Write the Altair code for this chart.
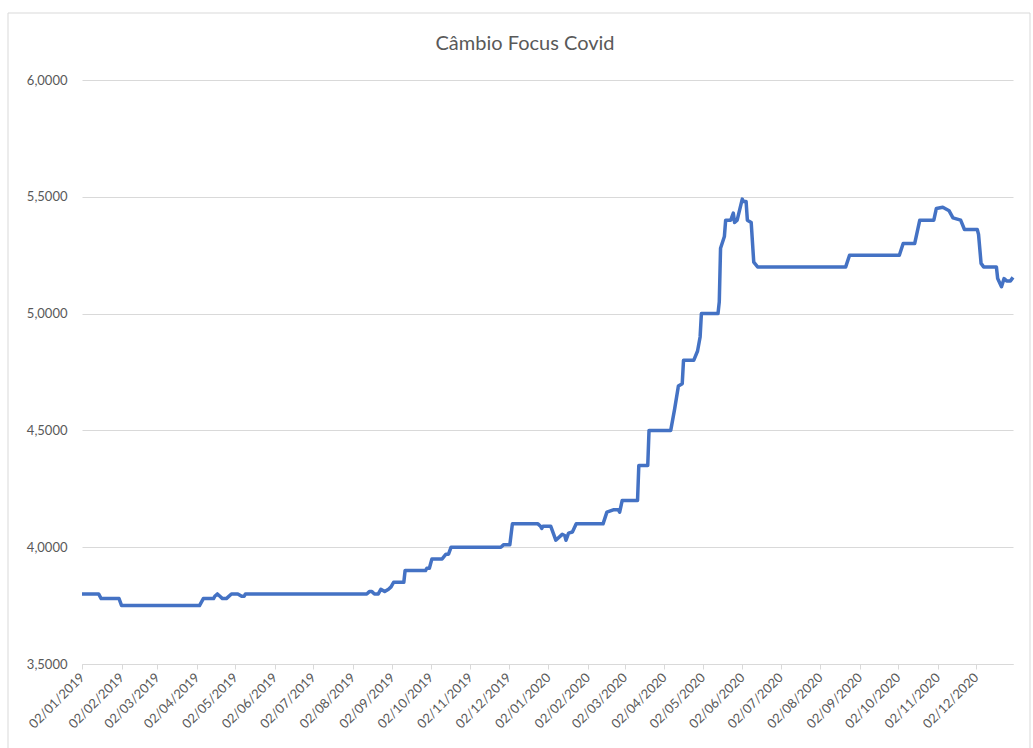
import altair as alt
import pandas as pd

TITLE = "Câmbio Focus Covid"

# Vertices of the exchange-rate expectation series
dates = [
    "2019-01-02", "2019-01-15", "2019-01-17", "2019-01-31", "2019-02-02",
    "2019-04-04", "2019-04-07", "2019-04-15", "2019-04-16", "2019-04-18",
    "2019-04-20", "2019-04-22", "2019-04-25", "2019-04-29", "2019-05-04",
    "2019-05-07", "2019-05-09", "2019-05-10", "2019-08-13", "2019-08-15",
    "2019-08-17", "2019-08-19", "2019-08-22", "2019-08-24", "2019-08-27",
    "2019-08-30", "2019-09-01", "2019-09-03", "2019-09-11", "2019-09-12",
    "2019-09-28", "2019-09-29", "2019-10-01", "2019-10-03", "2019-10-11",
    "2019-10-14", "2019-10-16", "2019-10-18", "2019-11-26", "2019-11-28",
    "2019-12-03", "2019-12-05", "2019-12-25", "2019-12-27", "2019-12-28",
    "2019-12-29", "2020-01-04", "2020-01-08", "2020-01-13", "2020-01-15",
    "2020-01-16", "2020-01-18", "2020-01-21", "2020-01-24", "2020-02-14",
    "2020-02-17", "2020-02-22", "2020-02-26", "2020-02-27", "2020-02-29",
    "2020-03-12", "2020-03-13", "2020-03-20", "2020-03-21", "2020-04-07",
    "2020-04-10", "2020-04-13", "2020-04-16", "2020-04-17", "2020-04-25",
    "2020-04-28", "2020-04-30", "2020-05-01", "2020-05-14", "2020-05-15",
    "2020-05-16", "2020-05-19", "2020-05-20", "2020-05-24", "2020-05-26",
    "2020-05-27", "2020-05-29", "2020-06-02", "2020-06-03", "2020-06-05",
    "2020-06-06", "2020-06-09", "2020-06-11", "2020-06-14", "2020-08-22",
    "2020-08-25", "2020-10-03", "2020-10-06", "2020-10-15", "2020-10-19",
    "2020-10-30", "2020-11-01", "2020-11-06", "2020-11-11", "2020-11-14",
    "2020-11-20", "2020-11-23", "2020-12-03", "2020-12-04", "2020-12-06",
    "2020-12-08", "2020-12-18", "2020-12-19", "2020-12-22", "2020-12-24",
    "2020-12-26", "2020-12-29", "2020-12-31",
]
values = [
    3.80, 3.80, 3.78, 3.78, 3.75,
    3.75, 3.78, 3.78, 3.79, 3.80,
    3.79, 3.78, 3.78, 3.80, 3.80,
    3.79, 3.79, 3.80, 3.80, 3.81,
    3.81, 3.80, 3.80, 3.82, 3.81,
    3.82, 3.83, 3.85, 3.85, 3.90,
    3.90, 3.91, 3.91, 3.95, 3.95,
    3.97, 3.97, 4.00, 4.00, 4.01,
    4.01, 4.10, 4.10, 4.09, 4.08,
    4.09, 4.09, 4.03, 4.055, 4.05,
    4.03, 4.06, 4.065, 4.10, 4.10,
    4.15, 4.16, 4.16, 4.15, 4.20,
    4.20, 4.35, 4.35, 4.50, 4.50,
    4.59, 4.69, 4.70, 4.80, 4.80,
    4.84, 4.90, 5.00, 5.00, 5.05,
    5.28, 5.33, 5.40, 5.40, 5.43,
    5.39, 5.40, 5.49, 5.48, 5.48,
    5.40, 5.39, 5.22, 5.20, 5.20,
    5.25, 5.25, 5.30, 5.30, 5.40,
    5.40, 5.45, 5.455, 5.44, 5.41,
    5.40, 5.36, 5.36, 5.34, 5.215,
    5.20, 5.20, 5.15, 5.115, 5.15,
    5.14, 5.14, 5.155,
]

# Axis tick months (day 2 of each month)
tick_years = [2019] * 12 + [2020] * 12
tick_months = list(range(1, 13)) * 2
y_ticks = [3.5, 4.0, 4.5, 5.0, 5.5, 6.0]

df = pd.DataFrame({"data": [d + "T00:00:00" for d in dates], "valor": values})

FONT = "Lato"
GREY = "#595959"
LINE = "#d9d9d9"

tick_values = [alt.DateTime(year=y, month=m, date=2) for y, m in zip(tick_years, tick_months)]

x_enc = alt.X(
    "data:T",
    scale=alt.Scale(
        domain=[alt.DateTime(year=2019, month=1, date=2), alt.DateTime(year=2020, month=12, date=31)],
        nice=False,
    ),
    axis=alt.Axis(
        title=None,
        values=tick_values,
        format="%d/%m/%Y",
        labelAngle=-45,
        labelAlign="right",
        labelBaseline="middle",
        labelPadding=6,
        labelFont=FONT,
        labelFontSize=13,
        labelColor=GREY,
        domainColor=LINE,
        tickColor=LINE,
        tickSize=5,
        grid=False,
        labelOverlap=False,
    ),
)

y_enc = alt.Y(
    "valor:Q",
    scale=alt.Scale(domain=[3.5, 6.0], nice=False, zero=False),
    axis=alt.Axis(
        title=None,
        values=y_ticks,
        labelExpr="replace(format(datum.value, '.4f'), '.', ',')",
        labelFont=FONT,
        labelFontSize=13,
        labelColor=GREY,
        labelPadding=15,
        domain=False,
        ticks=False,
        grid=True,
        gridColor=LINE,
        gridWidth=1,
    ),
)

line = alt.Chart(df).mark_line(color="#4472C4", strokeWidth=3.5, strokeJoin="round").encode(
    x=x_enc, y=y_enc
)

frame = alt.Chart(pd.DataFrame({"a": [0]})).mark_rect(
    fill=None, stroke="#d9d9d9", strokeWidth=1
).encode(
    x=alt.value(-74), x2=alt.value(948), y=alt.value(-67), y2=alt.value(700)
)

title = alt.Chart(pd.DataFrame({"t": [TITLE]})).mark_text(
    font=FONT, fontSize=20, color=GREY, align="center", baseline="middle"
).encode(
    text="t:N", x=alt.value(443), y=alt.value(-36)
)

chart = alt.layer(frame, line, title).properties(
    width=931,
    height=584,
    background="white",
    autosize=alt.AutoSizeParams(type="none"),
    padding={"left": 82, "top": 80, "right": 20, "bottom": 84},
).configure_view(stroke=None)

chart.save("out.html", embed_options={"renderer": "svg", "actions": False})
